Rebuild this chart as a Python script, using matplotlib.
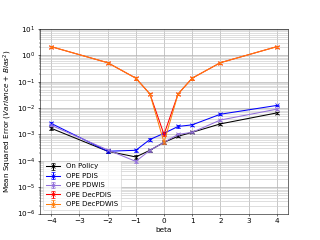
import numpy as np
import matplotlib
matplotlib.use('Agg')
import matplotlib.pyplot as plt

beta = [-4, -2, -1, -0.5, 0, 0.5, 1, 2, 4]

on_policy = [1.7e-3, 2.3e-4, 1.4e-4, 2.5e-4, 5e-4, 8.5e-4, 1.2e-3, 2.5e-3, 6.5e-3]
pdis = [2.6e-3, 2.3e-4, 2.5e-4, 6.4e-4, 1.1e-3, 2.0e-3, 2.3e-3, 5.8e-3, 1.25e-2]
pdwis = [2.2e-3, 2.6e-4, 9.5e-5, 2.5e-4, 5e-4, 1.0e-3, 1.2e-3, 3.5e-3, 9e-3]
dec_pdis = [2.1, 0.52, 0.135, 0.034, 1.0e-3, 0.034, 0.135, 0.52, 2.1]
dec_pdwis = [2.1, 0.52, 0.135, 0.034, 5e-4, 0.034, 0.135, 0.52, 2.1]

# rough error bars, small relative to values
err_on = [2e-4, 3e-5, 2e-5, 3e-5, 5e-5, 8e-5, 1e-4, 2e-4, 5e-4]
err_pdis = [3e-4, 3e-5, 3e-5, 6e-5, 1e-4, 2e-4, 2e-4, 5e-4, 1e-3]
err_pdwis = [2e-4, 3e-5, 1e-5, 3e-5, 5e-5, 1e-4, 1e-4, 3e-4, 8e-4]
err_dpdis = [0.2, 0.05, 0.015, 0.004, 1e-4, 0.004, 0.015, 0.05, 0.2]
err_dpdwis = [0.2, 0.05, 0.015, 0.004, 5e-5, 0.004, 0.015, 0.05, 0.2]

series = [
	('On Policy', on_policy, err_on, 'black'),
	('OPE PDIS', pdis, err_pdis, 'blue'),
	('OPE PDWIS', pdwis, err_pdwis, 'mediumpurple'),
	('OPE DecPDIS', dec_pdis, err_dpdis, 'red'),
	('OPE DecPDWIS', dec_pdwis, err_dpdwis, '#ff7f0e'),
]

fig, ax = plt.subplots(figsize=(6.4, 4.8), dpi=50)
for name, vals, err, col in series:
	ax.errorbar(beta, vals, yerr=err, color=col, marker='x', capsize=3, label=name)

ax.set_yscale('log')
ax.set_ylim(1e-6, 1e1)
ax.set_xlim(-4.4, 4.4)
ax.set_xticks([-4, -3, -2, -1, 0, 1, 2, 3, 4])
ax.grid(which='major', color='#b0b0b0', linewidth=1.0)
ax.grid(which='minor', color='#d0d0d0', linewidth=1.0)
ax.tick_params(labelsize=10.5)
ax.set_xlabel('beta', fontsize=10.5)
ax.set_ylabel('Mean Squared Error ($Variance$ + $Bias^2$)', fontsize=10.5)
ax.legend(loc='lower left', fontsize=10)
plt.savefig('out.png', dpi=50)
plt.close()
